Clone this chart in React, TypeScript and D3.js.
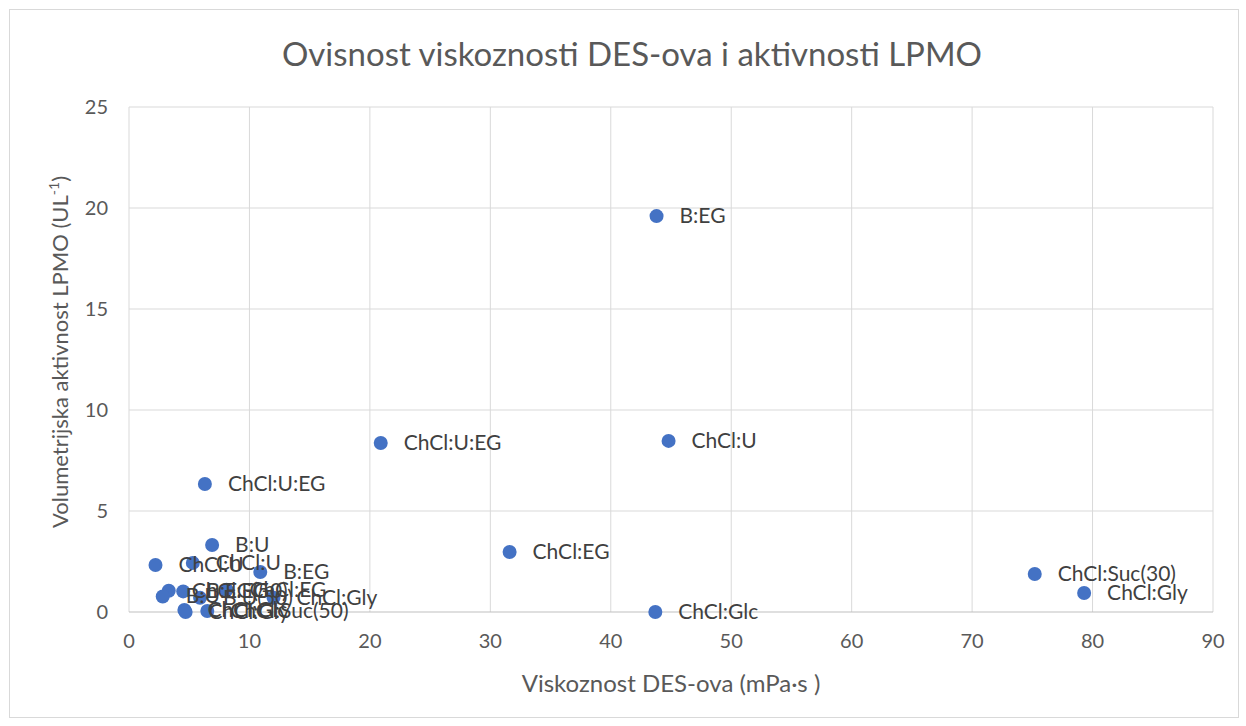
import React from "react";
import * as d3 from "d3";

const labels = [
  "B:EG", "ChCl:U:EG", "ChCl:U", "ChCl:U:EG", "ChCl:EG", "ChCl:Glc", "ChCl:Suc(30)", "ChCl:Gly",
  "B:U", "ChCl:U", "ChCl:U", "B:EG", "ChCl:EG", "B:U", "B:EG(50)", "ChCl:EG", "ChCl:Gly",
  "ChCl:Glc", "ChCl:Suc(50)", "ChCl:Gly", "B:U(50)",
];
const viscosity = [
  43.8, 20.9, 44.8, 6.3, 31.6, 43.7, 75.2, 79.3,
  6.9, 5.3, 2.2, 10.9, 3.3, 2.8, 4.5, 8.1, 12.0,
  4.6, 6.5, 4.7, 5.9,
];
const activity = [
  19.6, 8.37, 8.47, 6.34, 2.97, 0.0, 1.88, 0.94,
  3.32, 2.43, 2.33, 1.98, 1.05, 0.77, 1.02, 1.1, 0.7,
  0.1, 0.05, 0.0, 0.7,
];
const xTicks = [0, 10, 20, 30, 40, 50, 60, 70, 80, 90];
const yTicks = [0, 5, 10, 15, 20, 25];

const W = 1246, H = 726;
const FONT = "Lato, 'Open Sans', sans-serif";

export default function App() {
  const x = d3.scaleLinear().domain([0, 90]).range([129, 1213]);
  const y = d3.scaleLinear().domain([0, 25]).range([612, 107]);
  const pts = labels.map((l, i) => ({ l, vx: viscosity[i], vy: activity[i] }));
  return (
    <svg width={W} height={H} style={{ position: "absolute", left: 0, top: 0, background: "#fff" }} fontFamily={FONT}>
      <rect x={9.5} y={9.5} width={1229} height={708} fill="#fff" stroke="#d9d9d9" />
      <text x={632} y={66} textAnchor="middle" fontSize={33} fill="#595959">
        Ovisnost viskoznosti DES-ova i aktivnosti LPMO
      </text>
      {xTicks.map((t) => (
        <line key={"gx" + t} x1={x(t)} x2={x(t)} y1={y(25)} y2={y(0)} stroke="#d9d9d9" strokeWidth={1} />
      ))}
      {yTicks.map((t) => (
        <line key={"gy" + t} x1={x(0)} x2={x(90)} y1={y(t)} y2={y(t)} stroke={t === 0 ? "#bfbfbf" : "#d9d9d9"} strokeWidth={1} />
      ))}
      {xTicks.map((t) => (
        <text key={"tx" + t} x={x(t)} y={648} textAnchor="middle" fontSize={20} fill="#595959">{t}</text>
      ))}
      {yTicks.map((t) => (
        <text key={"ty" + t} x={108} y={y(t) + 7} textAnchor="end" fontSize={20} fill="#595959">{t}</text>
      ))}
      <text x={671} y={692} textAnchor="middle" fontSize={24} fill="#595959">Viskoznost DES-ova (mPa·s )</text>
      <text transform={`translate(68,352) rotate(-90)`} textAnchor="middle" fontSize={22} fill="#595959">
        Volumetrijska aktivnost LPMO (UL<tspan dy={-9} fontSize={14}>-1</tspan><tspan dy={9}>)</tspan>
      </text>
      {pts.map((p, i) => (
        <circle key={"c" + i} cx={x(p.vx)} cy={y(p.vy)} r={7} fill="#4472C4" />
      ))}
      {pts.map((p, i) => (
        <text key={"l" + i} x={x(p.vx) + 23} y={y(p.vy) + 7} fontSize={21} fill="#404040">{p.l}</text>
      ))}
    </svg>
  );
}
